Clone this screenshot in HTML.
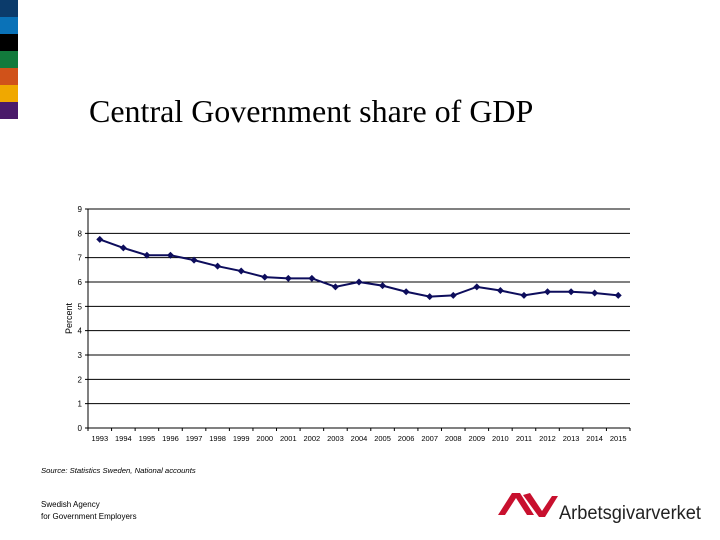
<!DOCTYPE html>
<html><head><meta charset="utf-8"><style>
body{margin:0;background:#fff;width:720px;height:540px;overflow:hidden;position:relative;font-family:"Liberation Sans",sans-serif}
.bar{position:absolute;left:0;width:18px;height:17px}
</style></head><body>
<div>
<div class="bar" style="top:0;background:#0b3b6b"></div>
<div class="bar" style="top:17px;background:#0a72b8"></div>
<div class="bar" style="top:34px;background:#000"></div>
<div class="bar" style="top:51px;background:#127a3c"></div>
<div class="bar" style="top:68px;background:#d0521a"></div>
<div class="bar" style="top:85px;background:#f0a800"></div>
<div class="bar" style="top:102px;background:#4a1a6a"></div>
</div>
<div style="position:absolute;left:89px;top:93px;font-family:'Liberation Serif',serif;font-size:32px;color:#000">Central Government share of GDP</div>
<svg id="chart" width="720" height="540" style="position:absolute;left:0;top:0"></svg>
<div style="position:absolute;left:41px;top:466px;font-size:7.7px;font-style:italic">Source: Statistics Sweden, National accounts</div>
<div style="position:absolute;left:41px;top:499px;font-size:8px;line-height:12px">Swedish Agency<br>for Government Employers</div>
<svg width="220" height="50" style="position:absolute;left:490px;top:480px">
<path d="M8 35 L22 13 L30 13 L44 35 L37 35 L26 18 L15 35Z M33 15 L40 13 L52 31 L62 16 L68 16 L55 37 L49 37Z" fill="#c8102e"/>
<text x="69" y="39" font-family="Liberation Sans,sans-serif" font-size="19" fill="#222" textLength="142" lengthAdjust="spacingAndGlyphs">Arbetsgivarverket</text>
</svg>
<script>
const categories=['1993','1994','1995','1996','1997','1998','1999','2000','2001','2002','2003','2004','2005','2006','2007','2008','2009','2010','2011','2012','2013','2014','2015'];
const values=[7.75,7.4,7.1,7.1,6.9,6.65,6.45,6.2,6.15,6.15,5.8,6.0,5.85,5.6,5.4,5.45,5.8,5.65,5.45,5.6,5.6,5.55,5.45];
const yTicks=[0,1,2,3,4,5,6,7,8,9];
const svg=document.getElementById('chart');const NS='http://www.w3.org/2000/svg';
const L=88,R=630,T=209,B=428,ymax=9;
const bw=(R-L)/categories.length;
const xs=i=>L+bw*(i+0.5);const ys=v=>B-(v/ymax)*(B-T);
function mk(t,a){const e=document.createElementNS(NS,t);for(const k in a)e.setAttribute(k,a[k]);svg.appendChild(e);return e;}
yTicks.forEach(t=>{
const g=mk('line',{x1:L-3,x2:R,y1:ys(t),y2:ys(t),stroke:'#000','stroke-width':1});


const tx=mk('text',{x:L-6,y:ys(t)+3,'text-anchor':'end','font-size':8,'font-family':'Liberation Sans,sans-serif'});tx.textContent=t;


});
mk('line',{x1:L,x2:L,y1:T,y2:B,stroke:'#000'});
categories.forEach((c,i)=>{
mk('line',{x1:L+bw*i,x2:L+bw*i,y1:B,y2:B+3,stroke:'#000'});
const tx=mk('text',{x:xs(i),y:B+13,'text-anchor':'middle','font-size':7.5,'font-family':'Liberation Sans,sans-serif'});tx.textContent=c;


});
mk('line',{x1:R,x2:R,y1:B,y2:B+3,stroke:'#000'});
const yt=mk('text',{x:0,y:0,transform:'translate(72,'+(ys(4.5))+') rotate(-90)','text-anchor':'middle','font-size':9,'font-family':'Liberation Sans,sans-serif'});yt.textContent='Percent';


const line=mk('polyline',{points:values.map((v,i)=>xs(i)+','+ys(v)).join(' '),fill:'none',stroke:'#0d0d5c','stroke-width':2});


values.forEach((v,i)=>{
const x=xs(i),y=ys(v);
const p=mk('polygon',{points:`${x},${y-3.5} ${x+3.5},${y} ${x},${y+3.5} ${x-3.5},${y}`,fill:'#0d0d5c'});


});
</script>
</body></html>
